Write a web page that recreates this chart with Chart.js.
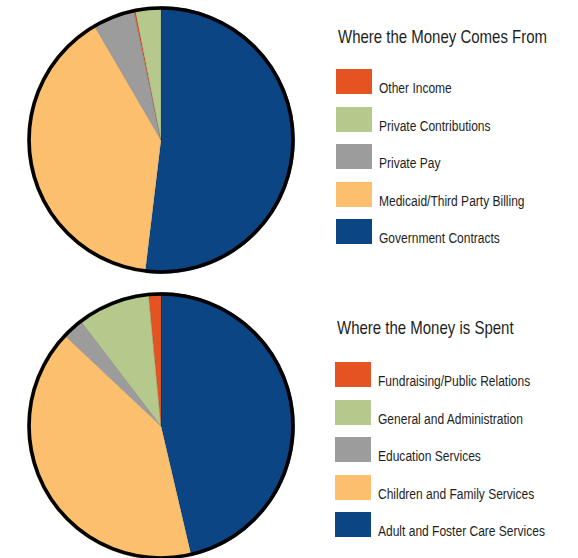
<!DOCTYPE html>
<html>
<head>
<meta charset="utf-8">
<script src="https://cdn.jsdelivr.net/npm/chart.js@4"></script>
<style>
    body { margin: 0; background: #fff; width: 578px; height: 558px; position: relative; overflow: hidden; }
    .pie { position: absolute; left: 27px; width: 268px; height: 268px; }
    .txt { position: absolute; white-space: nowrap; color: #1e1e1e; line-height: 1;
           font-family: "Liberation Sans", Arial, sans-serif; transform-origin: 0 0; }
    .title { font-size: 18.5px; transform: scaleX(0.81); }
    .item { font-size: 15.5px; transform: scaleX(0.775); }
    .box { position: absolute; width: 36px; height: 25px; }
</style>
</head>
<body>
<div class="pie" style="top:6px"><canvas id="incomeChart" width="268" height="268"></canvas></div>
<div class="pie" style="top:292px"><canvas id="spendChart" width="268" height="268"></canvas></div>
<div id="legends"></div>
<script>
    // Income: labels listed in legend order, values in percent
    const incomeTitle = 'Where the Money Comes From';
    const incomeLabels = ['Other Income', 'Private Contributions', 'Private Pay', 'Medicaid/Third Party Billing', 'Government Contracts'];
    const incomeValues = [0.2, 3.1, 5.1, 39.7, 51.9];
    const incomeSliceOrder = [4, 3, 2, 0, 1]; // clockwise from 12 o'clock

    // Spending
    const spendTitle = 'Where the Money is Spent';
    const spendLabels = ['Fundraising/Public Relations', 'General and Administration', 'Education Services', 'Children and Family Services', 'Adult and Foster Care Services'];
    const spendValues = [1.5, 8.9, 2.6, 40.7, 46.4];
    const spendSliceOrder = [4, 3, 2, 1, 0];

    const colors = ['#e45422', '#b4c98b', '#9c9c9c', '#fbbf6d', '#0b4584'];

    // black outline around the pie
    const outline = {
        id: 'outline',
        afterDatasetsDraw(chart) {
            const arc = chart.getDatasetMeta(0).data[0];
            if (!arc) return;
            const c = chart.ctx;
            c.save();
            c.beginPath();
            c.arc(arc.x, arc.y, arc.outerRadius - 1.8, 0, Math.PI * 2);
            c.lineWidth = 3.6;
            c.strokeStyle = '#000';
            c.stroke();
            c.restore();
        }
    };

    function makePie(id, labels, values, order) {
        new Chart(document.getElementById(id), {
            type: 'pie',
            data: {
                labels: order.map(i => labels[i]),
                datasets: [{
                    data: order.map(i => values[i]),
                    backgroundColor: order.map(i => colors[i]),
                    borderColor: 'rgba(0,0,0,0.2)',
                    borderWidth: 0.5
                }]
            },
            options: {
                responsive: false,
                animation: false,
                layout: { padding: 0 },
                plugins: { legend: { display: false }, tooltip: { enabled: true } }
            },
            plugins: [outline]
        });
    }

    function makeLegend(title, labels, titleTop, boxTop, boxLeft) {
        const wrap = document.getElementById('legends');
        const t = document.createElement('div');
        t.className = 'txt title';
        t.textContent = title;
        t.style.left = (boxLeft + 2) + 'px';
        t.style.top = titleTop + 'px';
        wrap.appendChild(t);
        labels.forEach((lab, i) => {
            const y = boxTop + i * 37.5;
            const b = document.createElement('div');
            b.className = 'box';
            b.style.left = boxLeft + 'px';
            b.style.top = y + 'px';
            b.style.background = colors[i];
            wrap.appendChild(b);
            const s = document.createElement('div');
            s.className = 'txt item';
            s.textContent = lab;
            s.style.left = (boxLeft + 43) + 'px';
            s.style.top = (y + 11) + 'px';
            wrap.appendChild(s);
        });
    }

    makePie('incomeChart', incomeLabels, incomeValues, incomeSliceOrder);
    makePie('spendChart', spendLabels, spendValues, spendSliceOrder);
    makeLegend(incomeTitle, incomeLabels, 27.5, 69, 336);
    makeLegend(spendTitle, spendLabels, 318.5, 362, 335);
</script>
</body>
</html>
